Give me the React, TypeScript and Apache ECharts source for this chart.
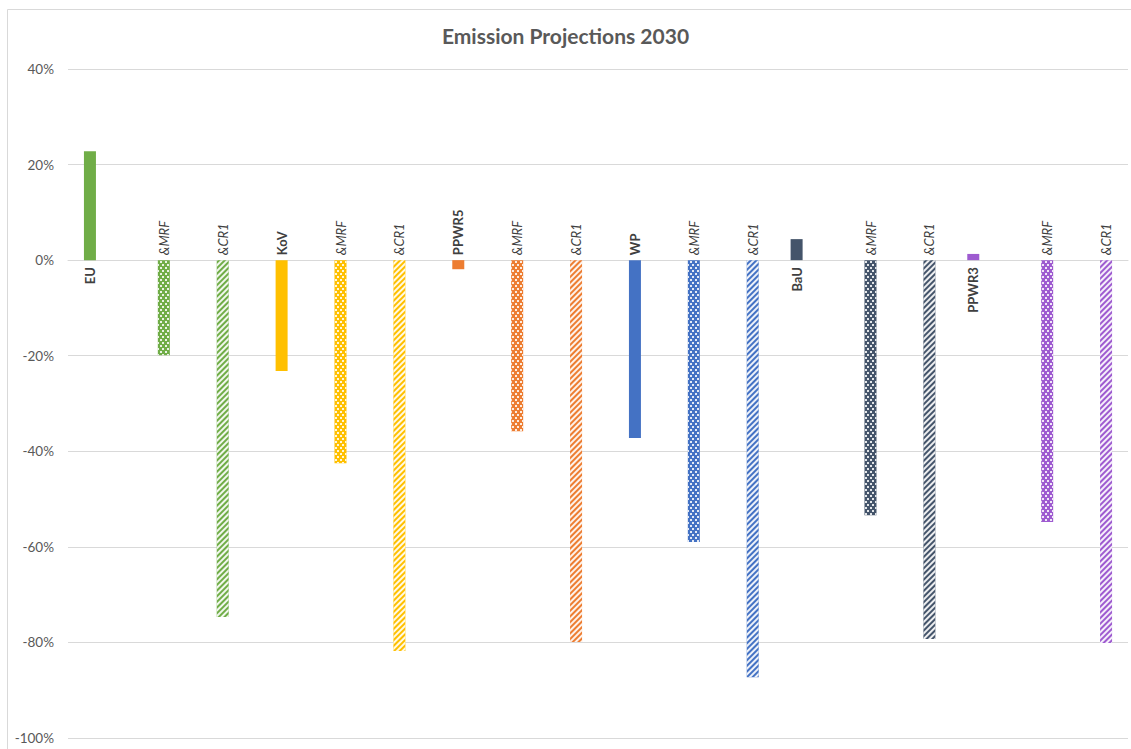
import React, { useEffect, useRef } from "react";
import * as echarts from "echarts";

// Scenario labels, one per bar slot
const categories = [
  "EU", "&MRF", "&CR1",
  "KoV", "&MRF", "&CR1",
  "PPWR5", "&MRF", "&CR1",
  "WP", "&MRF", "&CR1",
  "BaU", "&MRF", "&CR1",
  "PPWR3", "&MRF", "&CR1",
];

// Change in emissions by 2030, in percent
const values = [
  22.8, -19.9, -74.7,
  -23.2, -42.5, -81.8,
  -1.9, -35.8, -79.9,
  -37.2, -59.0, -87.3,
  4.4, -53.4, -79.3,
  1.3, -54.8, -80.1,
];

// One colour per scenario family (base, &MRF, &CR1)
const familyColors = ["#70AD47", "#FFC000", "#ED7D31", "#4472C4", "#44546A", "#9E5BD0"];

// Value axis
const yMin = -100;
const yMax = 40;
const yStep = 20;

const FONT = "Lato, 'Open Sans', sans-serif";

const dotDecal = {
  symbol: "rect",
  symbolSize: 1,
  color: "rgba(255,255,255,0.85)",
  dashArrayX: [[1.2, 2.8], [0, 2, 1.2, 0.8]],
  dashArrayY: [1.2, 0.9],
  rotation: 0,
};

const hatchDecal = {
  symbol: "rect",
  symbolSize: 1,
  color: "rgba(255,255,255,0.9)",
  dashArrayX: [1, 0],
  dashArrayY: [1.3, 1.3],
  rotation: -Math.PI / 4,
};

function buildItem(i: number, keep: (v: number) => boolean) {
  const v = values[i];
  if (!keep(v)) return null;
  const variant = i % 3;
  const color = familyColors[Math.floor(i / 3)];
  const negative = v < 0;
  return {
    value: v,
    itemStyle: {
      color,
      decal: variant === 1 ? dotDecal : variant === 2 ? hatchDecal : undefined,
    },
    label: {
      show: true,
      formatter: "{b}",
      position: negative ? "top" : "bottom",
      rotate: 90,
      align: negative ? "left" : "right",
      verticalAlign: "middle",
      distance: negative ? 5 : 7,
      fontFamily: FONT,
      fontSize: 13,
      color: "#404040",
      fontWeight: variant === 0 ? "bold" : "normal",
      fontStyle: variant === 0 ? "normal" : "italic",
    },
  };
}

export default function App() {
  const ref = useRef<HTMLDivElement>(null);

  useEffect(() => {
    if (!ref.current) return;
    const chart = echarts.init(ref.current, undefined, { renderer: "svg" });

    const rising = categories.map((_, i) => buildItem(i, (v) => v >= 0));
    const falling = categories.map((_, i) => buildItem(i, (v) => v < 0));

    chart.setOption({
      animation: false,
      backgroundColor: "#ffffff",
      title: {
        text: "Emission Projections 2030",
        left: "center",
        top: 20,
        textStyle: {
          fontFamily: FONT,
          fontSize: 21,
          fontWeight: "bold",
          color: "#595959",
        },
      },
      graphic: [
        {
          type: "rect",
          silent: true,
          shape: { x: 7.5, y: 9.5, width: 1200, height: 800 },
          style: { fill: "none", stroke: "#D9D9D9", lineWidth: 1 },
        },
      ],
      grid: { left: 68, right: 3, top: 69, bottom: 11 },
      xAxis: {
        type: "category",
        data: categories,
        axisLine: { lineStyle: { color: "#D9D9D9", width: 1 } },
        axisTick: { show: false },
        axisLabel: { show: false },
      },
      yAxis: {
        type: "value",
        min: yMin,
        max: yMax,
        interval: yStep,
        axisLine: { show: false },
        axisTick: { show: false },
        splitLine: { lineStyle: { color: "#D9D9D9", width: 1 } },
        axisLabel: {
          formatter: (v: number) => `${v}%`,
          fontFamily: FONT,
          fontSize: 13.5,
          color: "#595959",
          margin: 14,
        },
      },
      series: [
        {
          name: "Increase",
          type: "bar",
          barWidth: 12,
          barGap: "25%",
          data: rising,
        },
        {
          name: "Decrease",
          type: "bar",
          barWidth: 12,
          barGap: "25%",
          data: falling,
        },
      ],
    });

    return () => chart.dispose();
  }, []);

  return (
    <div
      ref={ref}
      style={{ position: "absolute", left: 0, top: 0, width: 1131, height: 749 }}
    />
  );
}
